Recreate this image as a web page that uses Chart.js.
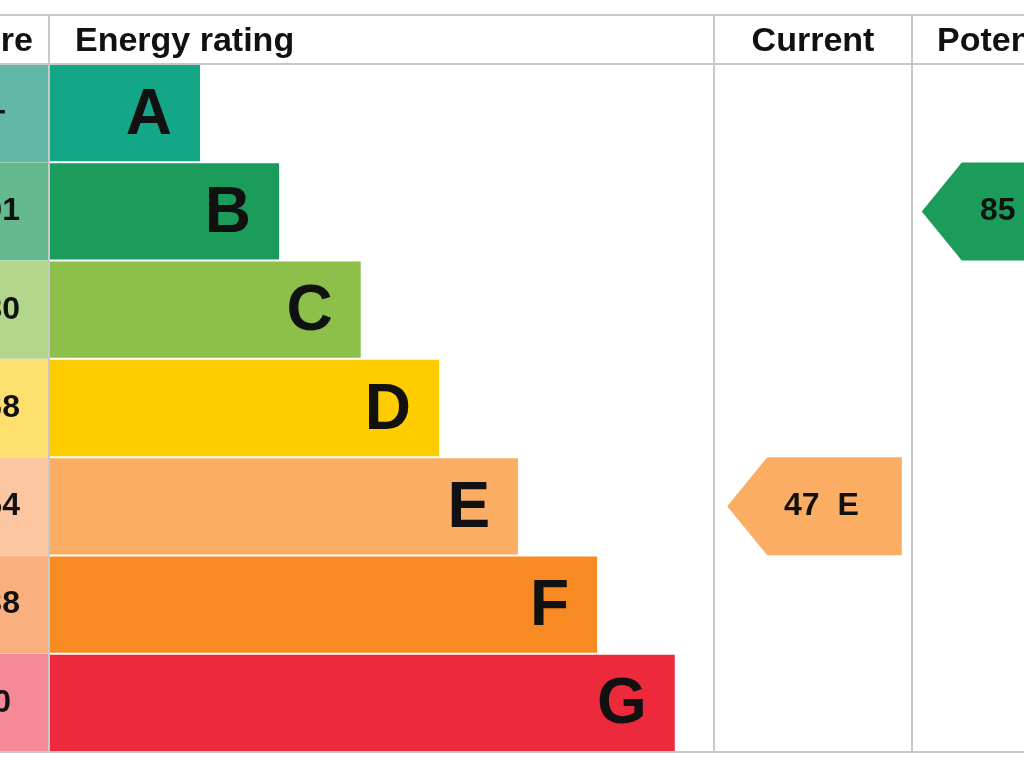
<!DOCTYPE html>
<html>
<head>
<meta charset="utf-8">
<script src="https://cdn.jsdelivr.net/npm/chart.js@4/dist/chart.umd.min.js"></script>
<style>
  body { margin: 0; background: #fff; }
  canvas { display: block; }
</style>
</head>
<body>
<canvas id="epc" width="1024" height="768"></canvas>
<script>
// energy bands, top to bottom
const bands = ['A', 'B', 'C', 'D', 'E', 'F', 'G'];
const scoreRanges = ['92+', '81-91', '69-80', '55-68', '39-54', '21-38', '1-20'];
const barLengths = [22.6, 34.5, 46.8, 58.6, 70.5, 82.4, 94.1];
const bandColours = ['#13a788', '#1b9c5a', '#8cc04b', '#ffcc00', '#fbad63', '#f78a22', '#ec2a3b'];
const rangeColours = ['#62b8a6', '#64b98f', '#b2d78c', '#ffdf6e', '#fcc7a0', '#f9b07e', '#f48a97'];

const current = { score: 47, band: 'E' };
const potential = { score: 85, band: 'B' };

// x positions (scale units) of the rating columns
const currentCol = [102, 128.3];
const potentialCol = [131.3, 160];

function drawArrow(ctx, xs, ys, x0, x1, row, colour, text, textX) {
  const y0 = ys.getPixelForValue(row) - 49;
  const y1 = y0 + 98;
  const left = xs.getPixelForValue(x0);
  const right = xs.getPixelForValue(x1);
  ctx.fillStyle = colour;
  ctx.beginPath();
  ctx.moveTo(left, (y0 + y1) / 2);
  ctx.lineTo(left + 40, y0);
  ctx.lineTo(right, y0);
  ctx.lineTo(right, y1);
  ctx.lineTo(left + 40, y1);
  ctx.closePath();
  ctx.fill();
  ctx.fillStyle = '#111';
  ctx.font = 'bold 32px "Liberation Sans", Arial';
  ctx.textAlign = 'left';
  ctx.textBaseline = 'middle';
  ctx.fillText(text, textX, (y0 + y1) / 2);
}

const epcPlugin = {
  id: 'epc',
  afterDatasetsDraw(chart) {
    const ctx = chart.ctx;
    const xs = chart.scales.x, ys = chart.scales.y;
    ctx.save();

    // score range column
    bands.forEach((b, i) => {
      const yc = ys.getPixelForValue(i);
      ctx.fillStyle = rangeColours[i];
      ctx.fillRect(0, yc - 49, 49, 98);
      ctx.fillStyle = '#111';
      ctx.font = 'bold 32px "Liberation Sans", Arial';
      ctx.textAlign = 'center';
      ctx.textBaseline = 'middle';
      ctx.fillText(scoreRanges[i], -21, yc);
      // band letter
      ctx.font = 'bold 64px "Liberation Sans", Arial';
      ctx.textAlign = 'right';
      ctx.fillText(b, xs.getPixelForValue(barLengths[i]) - 28, yc + 3);
    });

    drawArrow(ctx, xs, ys, currentCol[0], currentCol[1], bands.indexOf(current.band),
      bandColours[bands.indexOf(current.band)], current.score + '  ' + current.band, 784);
    drawArrow(ctx, xs, ys, potentialCol[0], potentialCol[1], bands.indexOf(potential.band),
      bandColours[bands.indexOf(potential.band)], potential.score + '  ' + potential.band, 980);

    // table lines
    ctx.strokeStyle = '#c8c8c8';
    ctx.lineWidth = 2;
    ctx.beginPath();
    ctx.moveTo(0, 15); ctx.lineTo(1024, 15);
    ctx.moveTo(0, 64); ctx.lineTo(1024, 64);
    ctx.moveTo(0, 752); ctx.lineTo(1024, 752);
    [49, 714, 912].forEach(x => { ctx.moveTo(x, 15); ctx.lineTo(x, 752); });
    ctx.stroke();

    // headers
    ctx.fillStyle = '#111';
    ctx.font = 'bold 34px "Liberation Sans", Arial';
    ctx.textBaseline = 'middle';
    ctx.textAlign = 'right';
    ctx.fillText('Score', 33, 42);
    ctx.textAlign = 'left';
    ctx.fillText('Energy rating', 75, 42);
    ctx.textAlign = 'center';
    ctx.fillText('Current', 813, 42);
    ctx.textAlign = 'left';
    ctx.fillText('Potential', 937, 42);
    ctx.restore();
  }
};

new Chart(document.getElementById('epc'), {
  type: 'bar',
  data: {
    labels: bands,
    datasets: [{
      data: barLengths,
      backgroundColor: bandColours,
      categoryPercentage: 1,
      barPercentage: 0.98
    }]
  },
  options: {
    indexAxis: 'y',
    responsive: false,
    animation: false,
    layout: { padding: { left: 50, top: 64, bottom: 16, right: 0 } },
    scales: {
      x: { display: false, min: 0, max: 146.7 },
      y: { display: false }
    },
    plugins: { legend: { display: false }, tooltip: { enabled: false } }
  },
  plugins: [epcPlugin]
});
</script>
</body>
</html>
